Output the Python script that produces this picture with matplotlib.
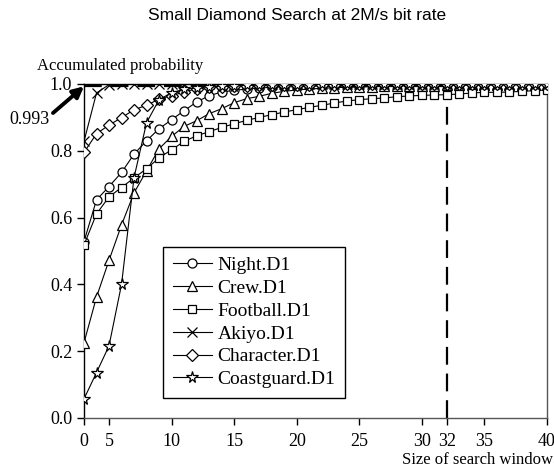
import matplotlib
matplotlib.use("Agg")
import matplotlib.pyplot as plt
import numpy as np

plt.rcParams['font.family'] = ['Liberation Serif', 'DejaVu Serif']

# ============================== DATA =================================
# search window sizes (one point per window size)
window = list(range(3, 41))

night = [0.528, 0.653, 0.693, 0.735, 0.790, 0.830, 0.866, 0.893, 0.920, 0.946,
         0.965, 0.976, 0.981, 0.985, 0.988, 0.990, 0.991, 0.992, 0.993, 0.994,
         0.994, 0.995, 0.995, 0.996, 0.996, 0.996, 0.997, 0.997, 0.997, 0.998,
         0.998, 0.998, 0.998, 0.999, 0.999, 0.999, 0.999, 0.999]
crew = [0.225, 0.362, 0.472, 0.578, 0.674, 0.740, 0.806, 0.843, 0.873, 0.890,
        0.911, 0.926, 0.944, 0.956, 0.963, 0.972, 0.978, 0.982, 0.985, 0.987,
        0.989, 0.990, 0.991, 0.992, 0.993, 0.994, 0.994, 0.995, 0.995, 0.996,
        0.996, 0.997, 0.997, 0.997, 0.998, 0.998, 0.998, 0.998]
football = [0.518, 0.611, 0.662, 0.690, 0.719, 0.746, 0.779, 0.803, 0.828, 0.845,
            0.857, 0.870, 0.881, 0.891, 0.900, 0.908, 0.916, 0.923, 0.930, 0.936,
            0.943, 0.949, 0.953, 0.956, 0.958, 0.962, 0.964, 0.966, 0.967, 0.968,
            0.970, 0.973, 0.975, 0.975, 0.976, 0.978, 0.980, 0.982]
akiyo = [0.828, 0.973, 0.998, 0.999, 1.0, 1.0, 1.0, 1.0, 1.0, 1.0,
         1.0, 1.0, 1.0, 1.0, 1.0, 1.0, 1.0, 1.0, 1.0, 1.0,
         1.0, 1.0, 1.0, 1.0, 1.0, 1.0, 1.0, 1.0, 1.0, 1.0,
         1.0, 1.0, 1.0, 1.0, 1.0, 1.0, 1.0, 1.0]
character = [0.795, 0.851, 0.877, 0.899, 0.923, 0.936, 0.955, 0.965, 0.976, 0.986,
             0.990, 0.992, 0.994, 0.995, 0.996, 0.997, 0.997, 0.998, 0.998, 0.998,
             0.998, 0.999, 0.999, 0.999, 0.999, 0.999, 0.999, 0.999, 0.999, 0.999,
             0.999, 0.999, 0.999, 1.0, 1.0, 1.0, 1.0, 1.0]
coastguard = [0.057, 0.136, 0.216, 0.400, 0.720, 0.884, 0.953, 0.974, 0.984, 0.989,
              0.992, 0.994, 0.995, 0.996, 0.997, 0.997, 0.998, 0.998, 0.998, 0.999,
              0.999, 0.999, 0.999, 0.999, 0.999, 0.999, 0.999, 0.999, 0.999, 1.0,
              1.0, 1.0, 1.0, 1.0, 1.0, 1.0, 1.0, 1.0]

series = [("Night.D1", night, 'o'),
          ("Crew.D1", crew, '^'),
          ("Football.D1", football, 's'),
          ("Akiyo.D1", akiyo, 'x'),
          ("Character.D1", character, 'D'),
          ("Coastguard.D1", coastguard, '*')]

xtick_pos = [3, 5, 10, 15, 20, 25, 30, 32, 35, 40]
xtick_lab = ["0", "5", "10", "15", "20", "25", "30", "32", "35", "40"]
ytick_pos = [0.0, 0.2, 0.4, 0.6, 0.8, 1.0]

ref_window = 32
ref_prob = 0.993

# ============================== PLOT =================================
fig = plt.figure(figsize=(5.54, 4.75), dpi=100)
ax = fig.add_axes([0.1516, 0.12, 0.8358, 0.7032])

sizes = {'o': 6.5, '^': 7.5, 's': 6, 'x': 7.5, 'D': 6, '*': 8.5}
for name, vals, m in series:
    ax.plot(window, vals, color='k', lw=0.8, marker=m, markersize=sizes[m],
            markerfacecolor='white', markeredgecolor='k', markeredgewidth=0.9,
            label=name, zorder=3)

# reference lines for the 32 window / 0.993 point
ax.plot([window[0], ref_window], [ref_prob, ref_prob], color='k', lw=1.6,
        dashes=(8, 4), zorder=2)
ax.plot([ref_window, ref_window], [0, ref_prob], color='k', lw=1.6,
        dashes=(8, 4), zorder=2)

# arrow from the label to the reference level
ax.annotate("", xy=(window[0], ref_prob), xycoords='data',
            xytext=(53, 475 - 113), textcoords='figure pixels',
            arrowprops=dict(arrowstyle='-|>', color='k', lw=2.8,
                            mutation_scale=16, shrinkA=0, shrinkB=0),
            annotation_clip=False)
fig.text(30 / 554, 1 - 119 / 475, "0.993", fontsize=13, ha='center', va='center')

ax.set_xlim(window[0], window[-1])
ax.set_ylim(0, 1.0)
ax.set_xticks(xtick_pos)
ax.set_xticklabels(xtick_lab)
ax.set_yticks(ytick_pos)
ax.set_yticklabels(["%.1f" % v for v in ytick_pos])
ax.tick_params(axis='both', labelsize=13, direction='out', length=5, width=1)
ax.tick_params(axis='x', pad=6)

for s in ['left', 'top']:
    ax.spines[s].set_color('k')
for s in ['right', 'bottom']:
    ax.spines[s].set_color('#555555')
for s in ax.spines.values():
    s.set_linewidth(1.0)

leg = ax.legend(loc='lower left', bbox_to_anchor=(0.171, 0.06), fontsize=14,
                frameon=True, fancybox=False, edgecolor='k', framealpha=1,
                handlelength=2.0, labelspacing=0.27, borderpad=0.5,
                handletextpad=0.3, borderaxespad=0)
leg.get_frame().set_linewidth(1.0)

fig.text(297 / 554, 1 - 16 / 475, "Small Diamond Search at 2M/s bit rate",
         family='Liberation Sans', fontsize=12.5, ha='center', va='center')
fig.text(37 / 554, 1 - 66 / 475, "Accumulated probability", fontsize=12,
         ha='left', va='center')
fig.text(553 / 554, 1 - 460 / 475, "Size of search window", fontsize=12,
         ha='right', va='center')

fig.savefig("out.png", dpi=100)
